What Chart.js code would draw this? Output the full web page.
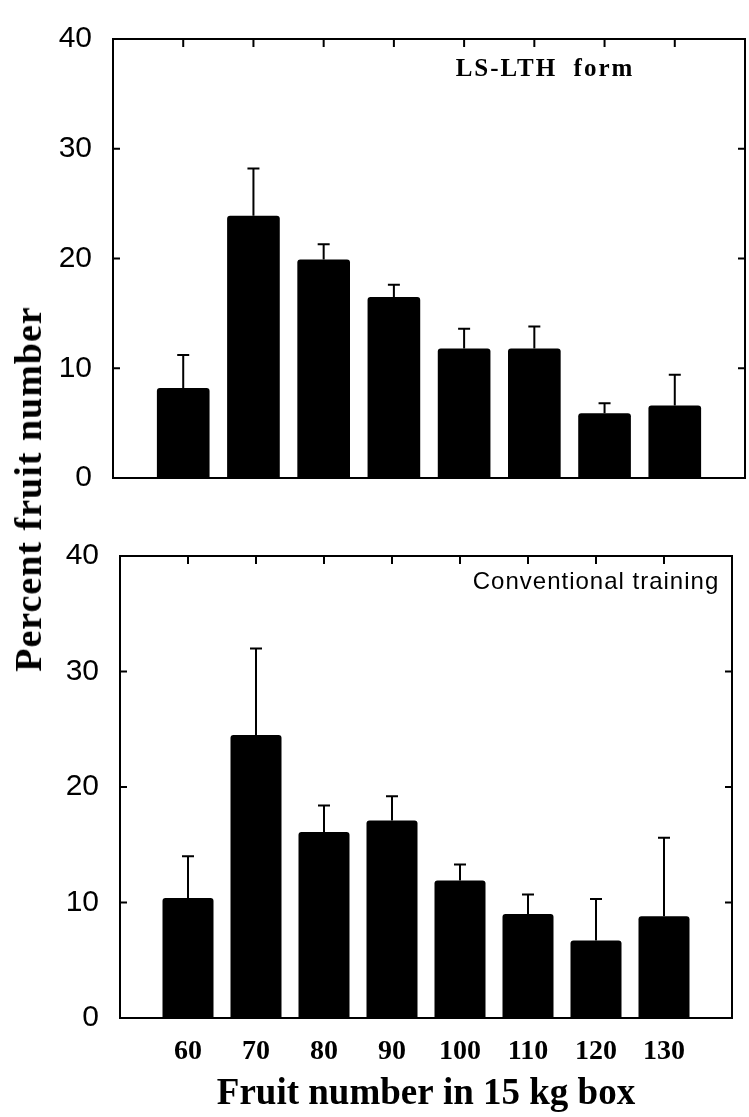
<!DOCTYPE html>
<html>
<head>
<meta charset="utf-8">
<script src="https://cdn.jsdelivr.net/npm/chart.js@4.4.1/dist/chart.umd.min.js"></script>
<style>
  body { margin: 0; background: #fff; width: 749px; height: 1117px; position: relative; overflow: hidden; }
  canvas { position: absolute; left: 0; }
  #topChart { top: 0; }
  #bottomChart { top: 517px; }
  #yTitle {
    position: absolute; left: 28px; top: 489px;
    transform: translate(-50%, -50%) rotate(-90deg);
    font: bold 38px "Liberation Serif", "Times New Roman", serif;
    letter-spacing: 1px; white-space: nowrap; color: #000;
  }
</style>
</head>
<body>
<canvas id="topChart" width="749" height="517"></canvas>
<canvas id="bottomChart" width="749" height="600"></canvas>
<div id="yTitle">Percent fruit number</div>
<script>
// fruit count classes (per 15 kg box)
const fruitCounts = [60, 70, 80, 90, 100, 110, 120, 130];

// LS-LTH form: mean percent and top of the error bar
const lsLthPct   = [8.2, 23.9, 19.9, 16.5, 11.8, 11.8, 5.9, 6.6];
const lsLthUpper = [11.2, 28.2, 21.3, 17.6, 13.6, 13.8, 6.8, 9.4];

// conventional training
const convPct   = [10.4, 24.5, 16.1, 17.1, 11.9, 9.0, 6.7, 8.8];
const convUpper = [14.0, 32.0, 18.4, 19.2, 13.3, 10.7, 10.3, 15.6];

const yTicks = [0, 10, 20, 30, 40];

const serifBold = '"Liberation Serif", "Times New Roman", serif';
const sans = '"Liberation Sans", Arial, sans-serif';

// box around the plot, inward ticks, error bars and the panel caption
const panelPlugin = {
  id: 'panel',
  afterDatasetsDraw(chart, args, opts) {
    const { ctx, chartArea: a, scales: { x, y } } = chart;
    ctx.save();
    ctx.strokeStyle = '#000';
    ctx.fillStyle = '#000';
    ctx.lineWidth = 2;

    const bars = chart.getDatasetMeta(0).data;
    opts.upper.forEach((v, i) => {
      const bar = bars[i];
      const yTop = y.getPixelForValue(v);
      ctx.beginPath();
      ctx.moveTo(bar.x, bar.y);
      ctx.lineTo(bar.x, yTop);
      ctx.moveTo(bar.x - 6, yTop);
      ctx.lineTo(bar.x + 6, yTop);
      ctx.stroke();
    });

    ctx.strokeRect(a.left, a.top, a.right - a.left, a.bottom - a.top);

    ctx.beginPath();
    fruitCounts.forEach(c => {
      const px = x.getPixelForValue(c);
      ctx.moveTo(px, a.top);
      ctx.lineTo(px, a.top + 8);
    });
    yTicks.slice(1, -1).forEach(v => {
      const py = y.getPixelForValue(v);
      ctx.moveTo(a.left, py);
      ctx.lineTo(a.left + 7, py);
      ctx.moveTo(a.right - 7, py);
      ctx.lineTo(a.right, py);
    });
    ctx.stroke();

    ctx.font = opts.font;
    ctx.letterSpacing = opts.spacing;
    ctx.textAlign = 'center';
    ctx.textBaseline = 'middle';
    ctx.fillText(opts.text, a.left + opts.dx, a.top + opts.dy);
    ctx.restore();
  }
};

function makePanel(id, pct, upper, leftWidth, rightPad, showX, caption) {
  return new Chart(document.getElementById(id), {
    type: 'bar',
    data: {
      datasets: [{
        data: fruitCounts.map((c, i) => ({ x: c, y: pct[i] })),
        backgroundColor: '#000',
        borderWidth: 0,
        borderRadius: 3,
        barPercentage: 0.75,
        categoryPercentage: 1
      }]
    },
    options: {
      responsive: false,
      animation: false,
      layout: { padding: { top: 24, right: rightPad, bottom: showX ? 0 : 17, left: 0 } },
      plugins: {
        legend: { display: false },
        tooltip: { enabled: false },
        panel: Object.assign({ upper: upper }, caption)
      },
      scales: {
        x: {
          type: 'linear',
          display: showX,
          min: 50,
          max: 140,
          offset: false,
          grid: { display: false, drawTicks: false },
          border: { display: false },
          ticks: {
            stepSize: 10,
            autoSkip: false,
            maxRotation: 0,
            padding: 17,
            color: '#000',
            font: { family: serifBold, weight: 'bold', size: 28 },
            callback: v => (v === 50 || v === 140) ? '' : v
          },
          title: {
            display: showX,
            text: 'Fruit number in 15 kg box',
            color: '#000',
            padding: { top: 0, bottom: 0 },
            font: { family: serifBold, weight: 'bold', size: 37 }
          },
          afterFit: s => { s.height = showX ? 99 : 0; }
        },
        y: {
          min: 0,
          max: 40,
          grid: { display: false, drawTicks: false },
          border: { display: false },
          ticks: {
            stepSize: 10,
            padding: 21,
            color: '#000',
            font: { family: sans, size: 30 }
          },
          afterFit: s => { s.width = leftWidth; }
        }
      }
    },
    plugins: [panelPlugin]
  });
}

makePanel('topChart', lsLthPct, lsLthUpper, 113, 4, false, {
  text: 'LS-LTH  form',
  font: 'bold 25px ' + serifBold,
  spacing: '2px',
  dx: 432,
  dy: 31
});

makePanel('bottomChart', convPct, convUpper, 120, 1, true, {
  text: 'Conventional training',
  font: '24px ' + sans,
  spacing: '1px',
  dx: 476,
  dy: 26
});
</script>
</body>
</html>
